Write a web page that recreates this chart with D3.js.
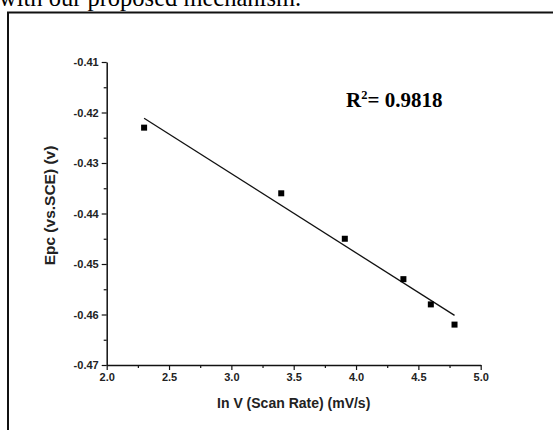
<!DOCTYPE html>
<html>
<head>
<meta charset="utf-8">
<script src="https://cdn.jsdelivr.net/npm/d3@7"></script>
<style>
  body { margin: 0; background: #fff; }
  svg { display: block; }
</style>
</head>
<body>
<svg></svg>
<script>
const width = 553;
const height = 430;

// data
var scanRate = [2.30, 3.40, 3.91, 4.38, 4.60, 4.79];
var epc = [-0.423, -0.436, -0.445, -0.453, -0.458, -0.462];
var xTicks = [2.0, 2.5, 3.0, 3.5, 4.0, 4.5, 5.0];
var yTicks = [-0.41, -0.42, -0.43, -0.44, -0.45, -0.46, -0.47];
var rSquared = "0.9818";

var svg = d3.select("svg").attr("width", width).attr("height", height);

// caption text cut at the top of the page
svg.append("text")
  .attr("x", -1).attr("y", 6)
  .style("font-family", "'Liberation Serif', 'Times New Roman', serif")
  .style("font-size", "24.5px")
  .text("with our proposed mechanism.");

// frame around the figure
svg.append("rect")
  .attr("x", 8).attr("y", 12.5)
  .attr("width", 600).attr("height", 500)
  .attr("fill", "none").attr("stroke", "#111").attr("stroke-width", 2);

var plotL = 106.7, plotR = 480.7, plotT = 62, plotB = 365;

var xScale = d3.scaleLinear().domain([2.0, 5.0]).range([plotL, plotR]);
var yScale = d3.scaleLinear().domain([-0.41, -0.47]).range([plotT, plotB]);

// minor ticks
var xMinor = d3.range(2.25, 5.0, 0.5);
var yMinor = d3.range(-0.415, -0.47, -0.01);

svg.append("g")
  .attr("transform", `translate(0,${plotB})`)
  .call(d3.axisBottom(xScale).tickValues(xMinor).tickSize(3).tickFormat(""))
  .call(g => g.select(".domain").remove())
  .selectAll("line").attr("stroke", "#111").attr("stroke-width", 1.2);

svg.append("g")
  .attr("transform", `translate(${plotL},0)`)
  .call(d3.axisLeft(yScale).tickValues(yMinor).tickSize(3).tickFormat(""))
  .call(g => g.select(".domain").remove())
  .selectAll("line").attr("stroke", "#111").attr("stroke-width", 1.2);

var xAxis = svg.append("g")
  .attr("transform", `translate(0,${plotB})`)
  .call(d3.axisBottom(xScale).tickValues(xTicks).tickSize(5).tickSizeOuter(0).tickPadding(3).tickFormat(d3.format(".1f")));

var yAxis = svg.append("g")
  .attr("transform", `translate(${plotL},0)`)
  .call(d3.axisLeft(yScale).tickValues(yTicks).tickSize(5).tickSizeOuter(0).tickPadding(3).tickFormat(d => d3.format(".2f")(d).replace("−", "-")));

[xAxis, yAxis].forEach(g => {
  g.select(".domain").attr("stroke", "#111").attr("stroke-width", 1.5);
  g.selectAll(".tick line").attr("stroke", "#111").attr("stroke-width", 1.2);
  g.selectAll(".tick text")
    .attr("fill", "#222")
    .style("font-family", "Arial, 'Liberation Sans', sans-serif")
    .style("font-weight", "bold").style("font-size", "11px");
});

// axis titles
svg.append("text")
  .attr("x", (plotL + plotR) / 2).attr("y", 408)
  .attr("text-anchor", "middle")
  .style("font-family", "Arial, 'Liberation Sans', sans-serif")
  .style("font-weight", "bold").style("font-size", "14px").style("fill", "#222")
  .text("In V (Scan Rate) (mV/s)");

svg.append("text")
  .attr("transform", `translate(55,${(plotT + plotB) / 2 - 8}) rotate(-90)`)
  .attr("text-anchor", "middle")
  .style("font-family", "Arial, 'Liberation Sans', sans-serif")
  .style("font-weight", "bold").style("font-size", "15.5px").style("fill", "#222")
  .text("Epc (vs.SCE) (v)");

// linear fit
var pts = scanRate.map((x, i) => [x, epc[i]]);
var mx = d3.mean(scanRate), my = d3.mean(epc);
var slope = d3.sum(pts, p => (p[0] - mx) * (p[1] - my)) / d3.sum(pts, p => (p[0] - mx) * (p[0] - mx));
var icpt = my - slope * mx;
var xExt = d3.extent(scanRate);
var fit = xExt.map(x => [xScale(x), yScale(icpt + slope * x)]);

svg.append("path")
  .attr("d", d3.line()(fit))
  .attr("fill", "none").attr("stroke", "#111").attr("stroke-width", 1.3);

// points
svg.selectAll("rect.pt")
  .data(pts)
  .enter()
  .append("rect")
  .attr("class", "pt")
  .attr("x", d => xScale(d[0]) - 3)
  .attr("y", d => yScale(d[1]) - 3)
  .attr("width", 6).attr("height", 6)
  .attr("fill", "#000");

// R squared label
var r2 = svg.append("text")
  .attr("x", 346).attr("y", 106.5)
  .style("font-family", "'Liberation Serif', 'Times New Roman', serif")
  .style("font-weight", "bold").style("font-size", "21px").style("fill", "#000");
r2.append("tspan").text("R");
r2.append("tspan").attr("dy", -8).style("font-size", "12.5px").text("2");
r2.append("tspan").attr("dy", 8).text("= " + rSquared);
</script>
</body>
</html>
